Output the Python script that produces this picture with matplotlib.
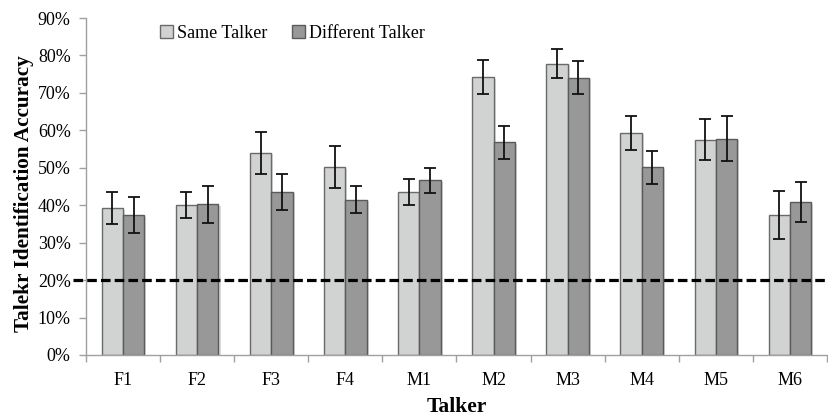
import matplotlib
matplotlib.use("Agg")
import matplotlib.pyplot as plt
import matplotlib.patheffects as pe
import matplotlib.transforms as mtransforms
import numpy as np

plt.rcParams['font.family'] = ['Liberation Serif', 'DejaVu Serif']

talkers = ["F1", "F2", "F3", "F4", "M1", "M2", "M3", "M4", "M5", "M6"]
same_talker = [39.2, 40.0, 54.0, 50.1, 43.5, 74.2, 77.8, 59.3, 57.5, 37.4]
same_err = [4.2, 3.5, 5.6, 5.6, 3.45, 4.55, 3.95, 4.55, 5.5, 6.3]
diff_talker = [37.3, 40.2, 43.6, 41.5, 46.7, 56.8, 74.0, 50.1, 57.8, 40.8]
diff_err = [4.85, 4.85, 4.85, 3.6, 3.35, 4.35, 4.4, 4.3, 6.05, 5.35]
chance_level = 20
yticks = [0, 10, 20, 30, 40, 50, 60, 70, 80, 90]

fig = plt.figure(figsize=(8.29, 4.17), dpi=100)
ax = fig.add_axes([0.1037, 0.1487, 0.8939, 0.8081])

x = np.arange(len(talkers))
w = 0.288
shadow = [pe.SimplePatchShadow(offset=(1.5, -1), alpha=0.18), pe.Normal()]
err_kw = dict(ecolor="#111111", elinewidth=1.3, capsize=4, capthick=1.3)

b1 = ax.bar(x - w / 2, same_talker, w, color="#d1d3d2", edgecolor="#6a6a6a",
            linewidth=1.0, label="Same Talker", zorder=2)
b2 = ax.bar(x + w / 2, diff_talker, w, color="#989898", edgecolor="#5a5a5a",
            linewidth=1.0, label="Different Talker", zorder=2)
for b in list(b1) + list(b2):
    b.set_path_effects(shadow)
ax.errorbar(x - w / 2, same_talker, yerr=same_err, fmt="none", zorder=3, **err_kw)
ax.errorbar(x + w / 2, diff_talker, yerr=diff_err, fmt="none", zorder=3, **err_kw)

# chance-level reference line
trans = mtransforms.blended_transform_factory(ax.transAxes, ax.transData)
ax.plot([-0.017, 1.0], [chance_level, chance_level], transform=trans,
        color="black", linestyle=(0, (3.0, 1.3)), linewidth=2.3, clip_on=False, zorder=4)

ax.set_xlim(-0.5, len(talkers) - 0.5)
ax.set_ylim(0, 90)
ax.set_yticks(yticks)
ax.set_yticklabels([f"{v}%" for v in yticks], fontsize=13)
ax.set_xticks(x)
ax.set_xticklabels(talkers, fontsize=13)
ax.set_xticks(np.arange(len(talkers) + 1) - 0.5, minor=True)
ax.tick_params(axis="x", which="major", length=0, pad=12)
ax.tick_params(axis="x", which="minor", length=5, color="#a0a0a0", width=1)
ax.tick_params(axis="y", length=5, color="#a0a0a0", width=1, pad=6)

for s in ["top", "right"]:
    ax.spines[s].set_visible(False)
for s in ["left", "bottom"]:
    ax.spines[s].set_color("#a0a0a0")
    ax.spines[s].set_linewidth(1)

ax.set_xlabel("Talker", fontsize=15.5, fontweight="bold")
ax.xaxis.set_label_coords(0.5, -0.125)
ax.set_ylabel("Talekr Identification Accuracy", fontsize=15.3, fontweight="bold")
ax.yaxis.set_label_coords(-0.07, 0.48)

leg = ax.legend(loc="center left", bbox_to_anchor=(0.0999, 0.955), ncol=2, frameon=False,
                fontsize=13, handlelength=0.72, handleheight=0.72, handletextpad=0.2,
                columnspacing=1.4, borderpad=0, borderaxespad=0)
for h in leg.legend_handles:
    h.set_path_effects([])

fig.savefig("out.png", dpi=100)
